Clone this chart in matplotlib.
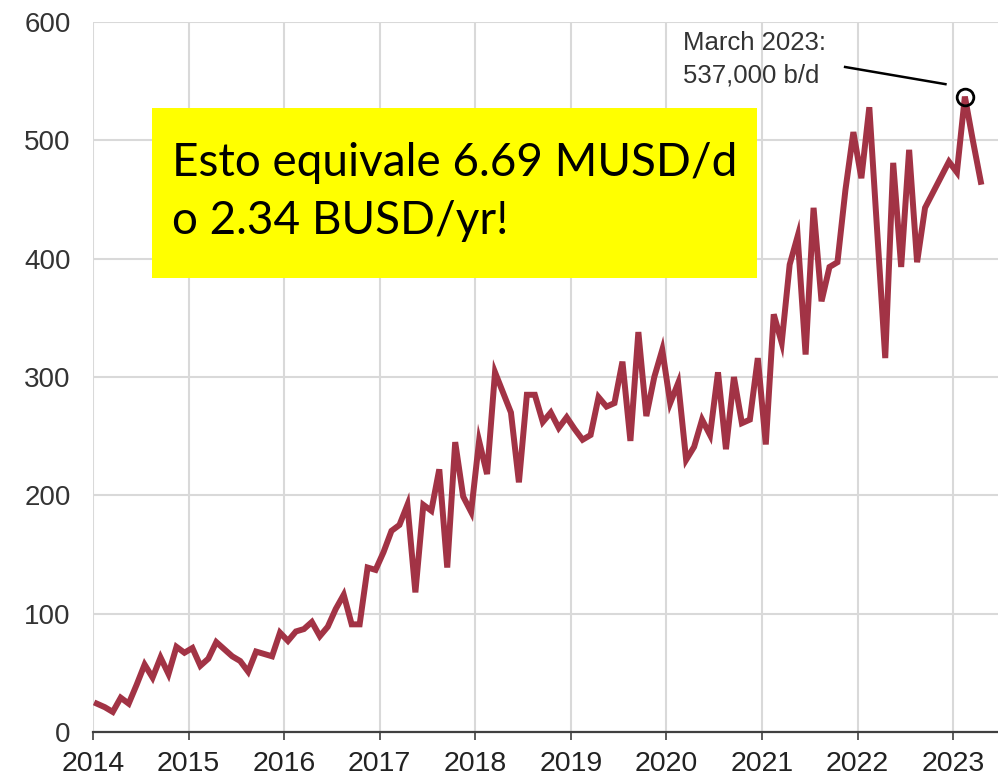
import matplotlib.pyplot as plt
from matplotlib.patches import Rectangle

# monthly values, thousand b/d, first point ~Jan 2014
vals = [24, 21, 17, 29, 24, 40, 57, 46, 63, 49, 72, 67,
        71, 56, 62, 76, 70, 64, 60, 51, 68, 66, 64, 84,
        77, 85, 87, 93, 81, 89, 104, 116, 91, 91, 139, 137,
        152, 170, 175, 192, 118, 192, 187, 222, 139, 245, 199, 186,
        246, 218, 304, 287, 270, 211, 285, 285, 262, 270, 257, 266,
        256, 247, 251, 283, 275, 278, 313, 246, 338, 267, 300, 323,
        278, 295, 230, 241, 264, 251, 304, 239, 300, 261, 264, 316,
        243, 353, 329, 395, 419, 319, 443, 364, 393, 397, 458, 507,
        468, 528, 422, 316, 481, 393, 492, 397, 443, 456, 469, 482,
        473, 537, 500, 465]
start = 2014.04
years = list(range(2014, 2024))
yticks = [0, 100, 200, 300, 400, 500, 600]
peak_idx = 109
note = "March 2023:\n537,000 b/d"
box_text = "Esto equivale 6.69 MUSD/d\no 2.34 BUSD/yr!"

x = [start + i / 12 for i in range(len(vals))]

fig = plt.figure(figsize=(9.98, 7.81), dpi=100)
ax = fig.add_axes([0.0932, 0.0627, 0.9068, 0.9091])

ax.plot(x, vals, color='#a23345', lw=4.3, solid_joinstyle='miter', zorder=3)
ax.plot(x[peak_idx], vals[peak_idx], 'o', ms=12, mfc='none', mec='black', mew=2, zorder=4)

ax.set_xlim(2014, 2023.47)
ax.set_ylim(0, 600)
ax.set_xticks(years)
ax.set_yticks(yticks)
ax.grid(True, color='#d9d9d9', lw=1.5)
ax.set_axisbelow(True)
for s in ['top', 'right', 'left']:
    ax.spines[s].set_visible(False)
ax.spines['bottom'].set_color('#404040')
ax.spines['bottom'].set_linewidth(1.6)
ax.tick_params(axis='x', length=6, width=1.2, color='#404040', pad=8)
ax.tick_params(axis='y', length=0, pad=16)
for lab in ax.get_xticklabels():
    lab.set_fontfamily('Liberation Sans')
    lab.set_fontsize(20.5)
    lab.set_color('#222222')
for lab in ax.get_yticklabels():
    lab.set_fontfamily('Liberation Sans')
    lab.set_fontsize(20)
    lab.set_color('#333333')

# annotation
ax.text(2020.17, 592, note, fontsize=18.5, family='Liberation Sans', color='#333333',
        va='top', ha='left', linespacing=1.4)
ax.plot([2021.87, 2022.92], [562, 547.5], color='black', lw=1.8)

# yellow box
fig.patches.append(Rectangle((0.1523, 0.644), 0.6062, 0.2177, transform=fig.transFigure,
                             facecolor='#ffff00', edgecolor='none', zorder=5))
fig.text(0.1723, 0.754, box_text, fontsize=33, family='Lato', color='black',
         va='center', ha='left', linespacing=1.45, zorder=6)

fig.savefig('out.png', dpi=100)
